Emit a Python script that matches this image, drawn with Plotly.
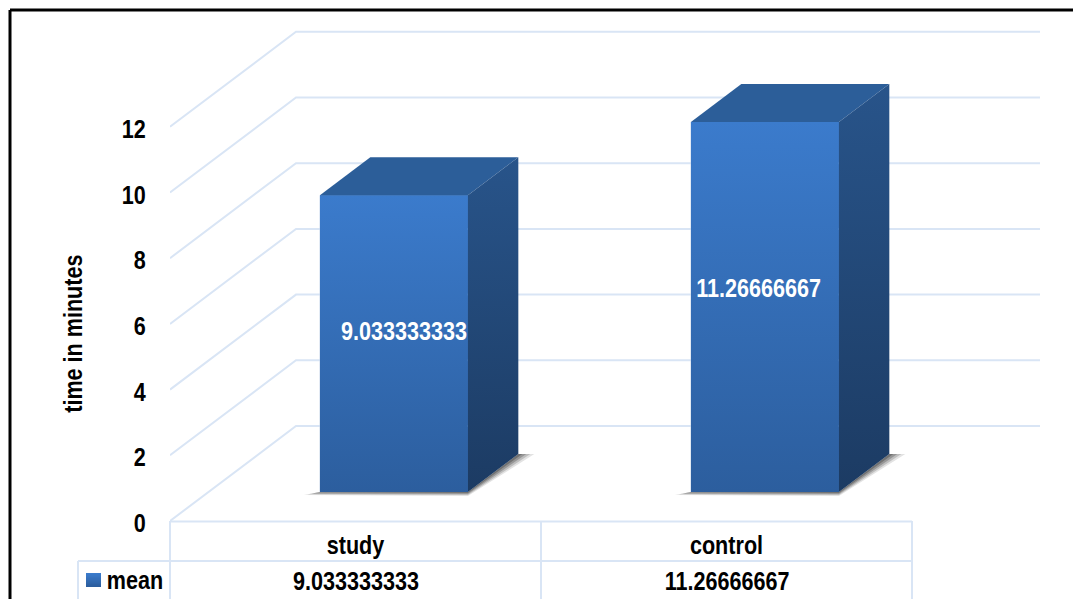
import plotly.graph_objects as go

categories = ["study", "control"]
series_name = "mean"
mean_values = [9.033333333, 11.26666667]
y_ticks = [0, 2, 4, 6, 8, 10, 12]
axis_title = "time in minutes"

FONT = "Liberation Sans, Arial, sans-serif"
GRID = "#d9e5f5"
W, H = 1073, 599
L, R, T, B = 170, 1040, 20, 521      # plot area in px
PX_PER_UNIT = 32.85
CAT_PX = 371.0
XMIN = -0.5
XMAX = XMIN + (R - L) / CAT_PX
YMAX = (B - T) / PX_PER_UNIT
DX = 126 / CAT_PX                    # full depth of the 3D floor, x units
DY = 95 / PX_PER_UNIT                # full depth of the 3D floor, value units
D_FRONT, D_BACK = 0.305, 0.705       # bar depth in the floor
BAR_W = 148 / CAT_PX


def proj(x, v, d):
    return x + DX * d, v + DY * d


def px(xp):
    return (xp - L) / (R - L)


def py(yp):
    return (B - yp) / (B - T)


fig = go.Figure()

# perspective grid
gx, gy = [], []
for t in y_ticks:
    for (xx, dd) in [(XMIN, 0), (XMIN, 1), (XMAX, 1)]:
        x0, y0 = proj(xx, t, dd)
        gx.append(min(x0, XMAX)); gy.append(y0)
    gx.append(None); gy.append(None)
fig.add_trace(go.Scatter(x=gx, y=gy, mode="lines", line=dict(color=GRID, width=2),
                         hoverinfo="skip", showlegend=False, cliponaxis=False))


def poly(pts, **kw):
    xs = [p[0] for p in pts] + [pts[0][0]]
    ys = [p[1] for p in pts] + [pts[0][1]]
    fig.add_trace(go.Scatter(x=xs, y=ys, mode="lines", fill="toself", line=dict(width=0),
                             hoverinfo="skip", showlegend=False, cliponaxis=False, **kw))


def grad(top, bottom):
    return dict(type="vertical", colorscale=[[0, bottom], [1, top]])


# soft shadow on the floor
for c in range(len(categories)):
    for spread, alpha in [(1.0, 0.14), (0.75, 0.22), (0.5, 0.3), (0.25, 0.4)]:
        h = BAR_W / 2
        a = proj(c - h - spread * 16 / CAT_PX, -spread * 3 / PX_PER_UNIT, D_FRONT)
        b = proj(c + h, -spread * 4 / PX_PER_UNIT, D_FRONT)
        e = proj(c + h + spread * 16 / CAT_PX, 0, D_BACK)
        f = proj(c + h, 0, D_BACK)
        g = proj(c + h, 0, D_FRONT)
        k = proj(c - h, 0, D_FRONT)
        poly([a, b, e, f, g, k], fillcolor=f"rgba(60,60,60,{alpha})")

# front faces as real bars
fig.add_trace(go.Bar(
    x=[proj(c, 0, D_FRONT)[0] for c in range(len(categories))],
    y=mean_values, base=DY * D_FRONT, width=BAR_W, name=series_name,
    marker=dict(color="#3369ab", line=dict(width=0)), showlegend=False))

for c, v in enumerate(mean_values):
    h = BAR_W / 2
    # gradient on the front face
    poly([proj(c - h, 0, D_FRONT), proj(c + h, 0, D_FRONT), proj(c + h, v, D_FRONT), proj(c - h, v, D_FRONT)],
         fillgradient=grad("#3b7bcc", "#2c5e9e"))
    # top
    poly([proj(c - h, v, D_FRONT), proj(c + h, v, D_FRONT), proj(c + h, v, D_BACK), proj(c - h, v, D_BACK)],
         fillcolor="#2c5e99")
    # side
    poly([proj(c + h, 0, D_FRONT), proj(c + h, 0, D_BACK), proj(c + h, v, D_BACK), proj(c + h, v, D_FRONT)],
         fillgradient=grad("#28548a", "#1c3b63"))

# labels on bars
label_dx = [0.027, -0.017]
label_dy = [1.2, 1.39]
fig.add_trace(go.Scatter(
    x=[c + label_dx[c] + DX * D_FRONT for c in range(len(categories))],
    y=[v / 2 + label_dy[i] for i, v in enumerate(mean_values)],
    mode="text", text=[f"{v:.10g}" for v in mean_values],
    textfont=dict(family=FONT, size=26, color="white", weight="bold"),
    hoverinfo="skip", showlegend=False, cliponaxis=False))

shapes = []


def line(x0, y0, x1, y1, color=GRID, width=2):
    shapes.append(dict(type="line", xref="paper", yref="paper", x0=px(x0), y0=py(y0), x1=px(x1), y1=py(y1),
                       line=dict(color=color, width=width), layer="above"))


# outer frame
line(10, 10, 10, 602, "black", 3)
line(10, 10, 1076, 10, "black", 3)
# data table
line(170, 521.5, 912, 521.5)
line(78, 561, 912, 561)
for xp in (170, 541, 912):
    line(xp, 521, xp, 602)
line(78, 561, 78, 602)
# legend key
n = 10
for i in range(n):
    f = i / (n - 1)
    c0, c1 = (0x3b, 0x7b, 0xcc), (0x2c, 0x5e, 0x9e)
    col = "rgb(%d,%d,%d)" % tuple(round(a + (b - a) * f) for a, b in zip(c0, c1))
    shapes.append(dict(type="rect", xref="paper", yref="paper",
                       x0=px(86), x1=px(101), y0=py(573 + 1.4 * i), y1=py(587),
                       fillcolor=col, line=dict(width=0), layer="above"))

bold = dict(family=FONT, size=26, color="black", weight="bold")
annots = [dict(text=axis_title, xref="paper", yref="paper", x=px(73), y=py(334), textangle=-90,
               showarrow=False, font=bold, xanchor="center", yanchor="middle"),
          dict(text=series_name, xref="paper", yref="paper", x=px(99), y=py(580), showarrow=False,
               font=bold, xanchor="left", yanchor="middle")]
for i, v in enumerate(mean_values):
    annots.append(dict(text=f"{v:.10g}", xref="x", yref="paper", x=i, y=py(581), showarrow=False,
                       font=bold, xanchor="center", yanchor="middle"))

fig.update_layout(
    width=W, height=H, autosize=False,
    margin=dict(l=L, r=W - R, t=T, b=H - B, pad=0),
    paper_bgcolor="white", plot_bgcolor="white", showlegend=False,
    font=dict(family=FONT),
    xaxis=dict(range=[XMIN, XMAX], tickmode="array", tickvals=list(range(len(categories))), ticktext=categories,
               showgrid=False, zeroline=False, showline=False, ticks="outside", ticklen=1,
               tickcolor="rgba(0,0,0,0)", tickfont=bold),
    yaxis=dict(range=[0, YMAX], tickmode="array", tickvals=y_ticks, showgrid=False, zeroline=False, showline=False,
               ticks="outside", ticklen=18, tickcolor="rgba(0,0,0,0)", tickfont=bold, ticklabelshift=2),
    shapes=shapes, annotations=annots,
)
narrow = """
document.body.style.margin='0';document.body.style.overflow='hidden';
document.querySelectorAll('.main-svg text').forEach(function(t){
  var w=t.getComputedTextLength();
  if(w>0){t.setAttribute('textLength',w*0.83);t.setAttribute('lengthAdjust','spacingAndGlyphs');}
});
"""
fig.write_html("out.html", config={"displayModeBar": False}, post_script=narrow)
